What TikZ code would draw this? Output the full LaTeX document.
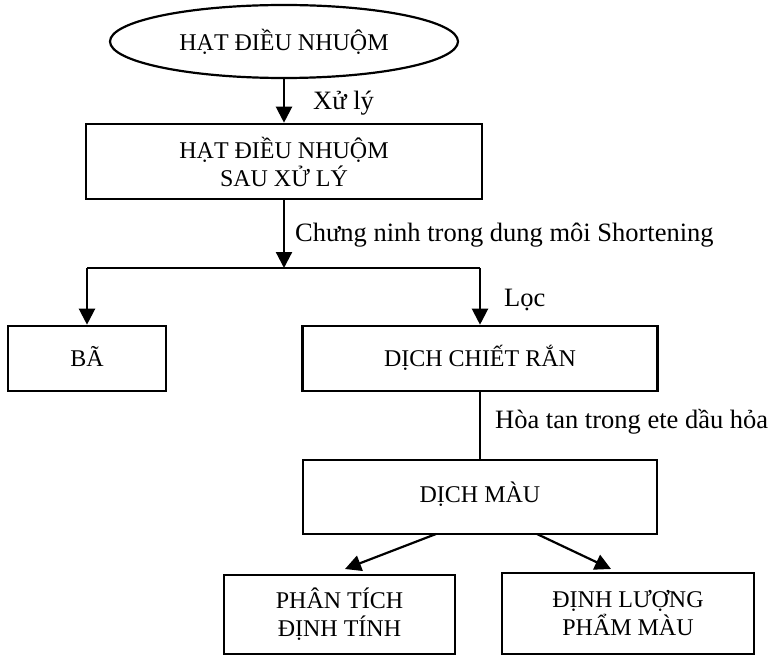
\documentclass[tikz,border=0pt]{standalone}
\usepackage{fontspec}
\setmainfont{Liberation Serif}
\usetikzlibrary{shapes.geometric,arrows.meta,calc}
\begin{document}
\begin{tikzpicture}[x=1pt,y=-1pt,
  every node/.style={font=\fontsize{24}{28}\selectfont},
  procbox/.style={draw,line width=2.6pt,rectangle,align=center,inner sep=0pt},
  conn/.style={line width=2.2pt},
  arr/.style={conn,-{Triangle[length=16pt,width=16pt]}},
  lbl/.style={anchor=west,inner sep=0pt,font=\fontsize{26.5}{30}\selectfont}]
\useasboundingbox (0,0) rectangle (771,655);
\node[draw,ellipse,line width=2.2pt,minimum width=348,minimum height=73,inner sep=0pt] (e) at (284,41.5) {HẠT ĐIỀU NHUỘM};
\node[procbox,minimum width=396,minimum height=75] (b2) at (284,161.5) {HẠT ĐIỀU NHUỘM\\SAU XỬ LÝ};
\node[procbox,minimum width=158,minimum height=65] (ba) at (87,358.5) {\raisebox{5pt}{BÃ}};
\node[procbox,minimum width=355,minimum height=65] (dc) at (480,358.5) {\raisebox{5pt}{DỊCH CHIẾT RẮN}};
\node[procbox,minimum width=354,minimum height=74] (dm) at (480,497) {\raisebox{10pt}{DỊCH MÀU}};
\node[procbox,minimum width=231,minimum height=79] (pt) at (339.5,614.5) {PHÂN TÍCH\\ĐỊNH TÍNH};
\node[procbox,minimum width=252,minimum height=81] (dl) at (628,613.5) {ĐỊNH LƯỢNG\\PHẨM MÀU};
\coordinate (split) at (284,268);
\coordinate (ptstart) at (436,534);
\coordinate (dlstart) at (537,534);
\coordinate (ptend) at (345,569);
\coordinate (dlend) at (611,569);
\draw[arr] (e.south) -- (b2.north);
\draw[arr] (b2.south) -- (split);
\draw[conn] (ba.north |- split) -- (dc.north |- split);
\draw[arr] (ba.north |- split) -- (ba.north);
\draw[arr] (dc.north |- split) -- (dc.north);
\draw[conn] (dc.south) -- (dc.south |- dm.north);
\draw[arr] (ptstart) -- (ptend);
\draw[arr] (dlstart) -- (dlend);
\node[lbl] (l1) at (313,103) {Xử lý};
\node[lbl] (l2) at (295,235) {Chưng ninh trong dung môi Shortening};
\node[lbl] (l3) at (504,300) {Lọc};
\node[lbl] (l4) at (495,422) {Hòa tan trong ete dầu hỏa};
\end{tikzpicture}
\end{document}
